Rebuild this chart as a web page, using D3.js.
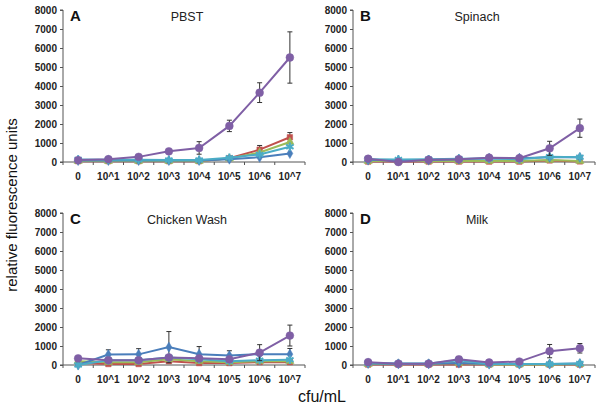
<!DOCTYPE html>
<html><head><meta charset="utf-8">
<script src="https://cdn.jsdelivr.net/npm/d3@7"></script>
<style>body{margin:0;background:#fff}svg{display:block}</style>
</head><body><svg id="c" width="600" height="411"></svg>
<script>
const categories = ["0","10^1","10^2","10^3","10^4","10^5","10^6","10^7"];
const yTicks = [0,1000,2000,3000,4000,5000,6000,7000,8000];
const seriesNames = ["blue","red","green","purple","cyan"];
const seriesColors = ["#4a7ebb","#c0504d","#9bbb59","#7f5fa5","#4bacc6"];
const seriesMarkers = ["diamond","square","triangle","circle","star"];

const panelLetters = ["A","B","C","D"];
const panelTitles = ["PBST","Spinach","Chicken Wash","Milk"];

// values per panel: [blue, red, green, purple, cyan]
const pbstBlue   = [80,80,80,80,80,150,250,450];
const pbstRed    = [40,40,40,40,40,200,650,1300];
const pbstGreen  = [50,50,50,50,50,180,500,1050];
const pbstPurple = [100,150,270,560,740,1900,3650,5500];
const pbstCyan   = [130,120,120,110,100,230,400,800];
const pbstPurpleErr = [0,0,0,60,330,300,520,1350];
const pbstRedErr    = [0,0,0,0,0,0,220,250];

const spinBlue   = [100,100,100,150,200,200,250,250];
const spinRed    = [20,20,20,20,20,20,80,30];
const spinGreen  = [50,50,50,50,50,50,100,50];
const spinPurple = [170,0,120,150,230,200,720,1780];
const spinCyan   = [150,130,140,170,170,150,280,250];
const spinPurpleErr = [0,0,0,0,0,0,370,480];

const chickBlue   = [0,550,560,940,570,500,570,570];
const chickRed    = [100,50,50,200,100,100,150,150];
const chickGreen  = [200,150,150,300,200,150,200,200];
const chickPurple = [350,250,250,400,350,300,650,1550];
const chickCyan   = [0,250,250,400,300,200,250,280];
const chickBlueErr   = [0,250,300,820,400,250,0,300];
const chickPurpleErr = [0,0,0,0,0,0,420,550];

const milkBlue   = [80,60,60,100,50,50,50,80];
const milkRed    = [20,20,20,20,20,20,20,20];
const milkGreen  = [50,50,50,100,30,30,30,50];
const milkPurple = [150,70,70,300,130,180,730,880];
const milkCyan   = [100,80,80,250,50,50,50,80];
const milkPurpleErr = [0,0,0,150,0,0,350,250];

const panels = [
  {vals:[pbstBlue,pbstRed,pbstGreen,pbstPurple,pbstCyan], errs:[null,pbstRedErr,null,pbstPurpleErr,null]},
  {vals:[spinBlue,spinRed,spinGreen,spinPurple,spinCyan], errs:[null,null,null,spinPurpleErr,null]},
  {vals:[chickBlue,chickRed,chickGreen,chickPurple,chickCyan], errs:[chickBlueErr,null,null,chickPurpleErr,null]},
  {vals:[milkBlue,milkRed,milkGreen,milkPurple,milkCyan], errs:[null,null,null,milkPurpleErr,null]}
];
const layout = [{x:63,y:10},{x:353,y:10},{x:63,y:213},{x:353,y:213}];
const W = 242, H = 152;

const svg = d3.select("#c");
const font = "Arial, 'Liberation Sans', sans-serif";

function symbolFor(m){
  return {diamond:d3.symbolDiamond,square:d3.symbolSquare,triangle:d3.symbolTriangle,circle:d3.symbolCircle,star:d3.symbolAsterisk}[m];
}

panels.forEach((p,pi)=>{
  const L = layout[pi];
  const g = svg.append("g").attr("transform",`translate(${L.x},${L.y})`);
  const x = d3.scaleBand().domain(categories).range([0,W]);
  const y = d3.scaleLinear().domain([0,8000]).range([H,0]);

  const ya = g.append("g").call(d3.axisLeft(y).tickValues(yTicks).tickSize(3).tickFormat(d3.format("d")));
  ya.select(".domain").attr("stroke","#555").attr("d",`M-3,${H}H0V0H-3`);
  ya.selectAll(".tick line").attr("stroke","#555");
  ya.selectAll("text").attr("font-family",font).attr("font-size",10).attr("font-weight","bold").attr("fill","#222").attr("x",-6);

  const xa = g.append("g").attr("transform",`translate(0,${H})`);
  xa.append("line").attr("x1",0).attr("x2",W).attr("stroke","#555");
  xa.selectAll("line.t").data(categories.concat([""])).enter().append("line")
    .attr("x1",(d,i)=>i*x.bandwidth()).attr("x2",(d,i)=>i*x.bandwidth()).attr("y1",0).attr("y2",3).attr("stroke","#555");
  xa.selectAll("text").data(categories).enter().append("text")
    .attr("x",d=>x(d)+x.bandwidth()/2).attr("y",18).attr("text-anchor","middle")
    .attr("font-family",font).attr("font-size",10).attr("font-weight","bold").attr("fill","#222").text(d=>d);

  g.append("text").attr("x",7).attr("y",11).attr("font-family",font).attr("font-size",15).attr("font-weight","bold").attr("fill","#111").text(panelLetters[pi]);
  g.append("text").attr("x",W/2+3).attr("y",11).attr("text-anchor","middle").attr("font-family",font).attr("font-size",12.5).attr("fill","#222").text(panelTitles[pi]);

  const cx = d => x(d)+x.bandwidth()/2;
  const order = [1,2,0,4,3];
  order.forEach(si=>{
    const vals = p.vals[si], errs = p.errs[si], col = seriesColors[si];
    if(errs){
      categories.forEach((c,i)=>{
        if(!errs[i]) return;
        const x0 = cx(c), y1 = y(vals[i]+errs[i]), y2 = y(Math.max(0,vals[i]-errs[i]));
        g.append("line").attr("x1",x0).attr("x2",x0).attr("y1",y1).attr("y2",y2).attr("stroke","#333").attr("stroke-width",1);
        [y1,y2].forEach(yy=>g.append("line").attr("x1",x0-2.5).attr("x2",x0+2.5).attr("y1",yy).attr("y2",yy).attr("stroke","#333").attr("stroke-width",1));
      });
    }
    const line = d3.line().x((d,i)=>cx(categories[i])).y(d=>y(d));
    g.append("path").datum(vals).attr("d",line).attr("fill","none").attr("stroke",col).attr("stroke-width",2);
    const m = seriesMarkers[si];
    const sym = d3.symbol().type(symbolFor(m)).size(m==="circle"?48:m==="star"?50:30);
    g.selectAll(null).data(vals).enter().append("path")
      .attr("d",sym).attr("transform",(d,i)=>`translate(${cx(categories[i])},${y(d)})`)
      .attr("fill",col).attr("stroke",col).attr("stroke-width",m==="star"?2:0.5);
  });
});

svg.append("text").attr("transform","translate(17,205) rotate(-90)").attr("text-anchor","middle")
  .attr("font-family",font).attr("font-size",15).attr("fill","#111").text("relative fluorescence units");
svg.append("text").attr("x",322).attr("y",402).attr("text-anchor","middle")
  .attr("font-family",font).attr("font-size",16).attr("fill","#111").text("cfu/mL");
</script></body></html>
